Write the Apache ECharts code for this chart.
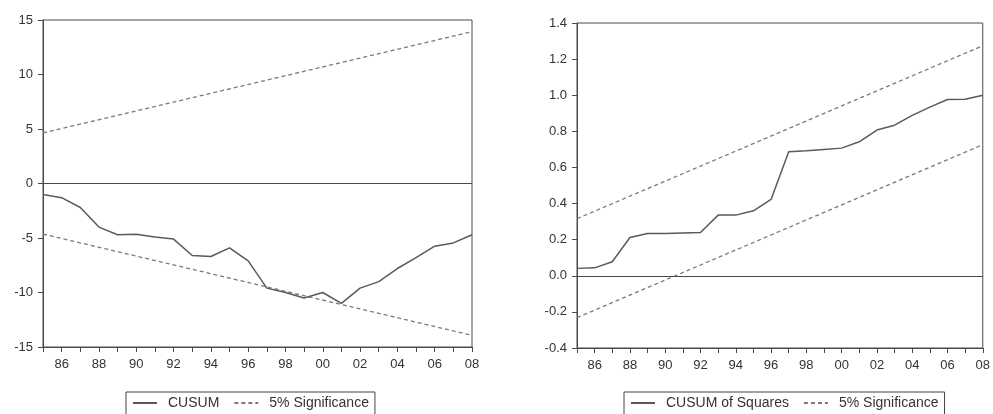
<!DOCTYPE html>
<html>
<head>
<meta charset="utf-8">
<script src="https://cdn.jsdelivr.net/npm/echarts@6/dist/echarts.min.js"></script>
<style>
  html, body { margin: 0; padding: 0; background: #fff; }
  #chart { width: 993px; height: 414px; }
</style>
</head>
<body>
<div id="chart"></div>
<script>
// Recursive residual stability tests, 1985-2008
const years = [1985, 1986, 1987, 1988, 1989, 1990, 1991, 1992, 1993, 1994, 1995, 1996,
               1997, 1998, 1999, 2000, 2001, 2002, 2003, 2004, 2005, 2006, 2007, 2008];

const cusum = [-1.0, -1.3, -2.2, -4.0, -4.7, -4.65, -4.9, -5.1, -6.6, -6.7, -5.9, -7.1,
               -9.6, -10.0, -10.5, -10.0, -11.0, -9.6, -9.0, -7.8, -6.8, -5.75, -5.45, -4.7];

const cusumSq = [0.041, 0.044, 0.078, 0.212, 0.234, 0.234, 0.237, 0.240, 0.336, 0.336, 0.360, 0.423,
                 0.687, 0.692, 0.700, 0.707, 0.742, 0.807, 0.834, 0.888, 0.934, 0.976, 0.978, 1.0];

// 5% significance bands are straight lines: values at the first and last year
const bandYears = [1985, 2008];
const cusumUpper = [4.64, 13.93];
const cusumLower = [-4.64, -13.93];
const sqUpper = [0.316, 1.274];
const sqLower = [-0.232, 0.726];

const pairs = (xs, ys) => xs.map((x, i) => [x, ys[i]]);

const FONT = 'Liberation Sans, Arial, sans-serif';
const AXIS_COLOR = '#4a4a4a';
const LINE_COLOR = '#5a5a5a';
const BAND_COLOR = '#7a7a7a';

function xAxisFor(gridIndex) {
  return {
    type: 'value', gridIndex, min: 1985, max: 2008, interval: 1,
    axisLine: { show: true, onZero: false, lineStyle: { color: AXIS_COLOR, width: 1 } },
    axisTick: { show: true, length: 5, lineStyle: { color: AXIS_COLOR } },
    splitLine: { show: false },
    axisLabel: {
      color: '#333', fontFamily: FONT, fontSize: 13, margin: 11,
      formatter: v => (v % 2 === 0 ? String(v % 100).padStart(2, '0') : '')
    }
  };
}

function yAxisFor(gridIndex, min, max, interval, digits) {
  return {
    type: 'value', gridIndex, min, max, interval,
    axisLine: { show: true, lineStyle: { color: AXIS_COLOR, width: 1 } },
    axisTick: { show: true, length: 5, lineStyle: { color: AXIS_COLOR } },
    splitLine: { show: false },
    axisLabel: {
      color: '#333', fontFamily: FONT, fontSize: 13, margin: 10,
      formatter: v => v.toFixed(digits)
    }
  };
}

function mainLine(name, idx, data) {
  return {
    type: 'line', name, xAxisIndex: idx, yAxisIndex: idx,
    data: pairs(years, data), symbol: 'none', silent: true,
    lineStyle: { color: LINE_COLOR, width: 1.5, type: 'solid' },
    itemStyle: { color: LINE_COLOR },
    markLine: {
      silent: true, symbol: 'none', label: { show: false },
      lineStyle: { color: AXIS_COLOR, width: 1, type: 'solid' },
      data: [{ yAxis: 0 }]
    },
    z: 3
  };
}

function bandLine(idx, data) {
  return {
    type: 'line', name: '5% Significance', xAxisIndex: idx, yAxisIndex: idx,
    data: pairs(bandYears, data), symbol: 'none', silent: true,
    lineStyle: { color: BAND_COLOR, width: 1.3, type: [4, 3] },
    itemStyle: { color: BAND_COLOR },
    z: 2
  };
}

function legendFor(left, names) {
  return {
    left, top: 392, orient: 'horizontal',
    data: names,
    borderColor: '#444', borderWidth: 1, borderRadius: 0,
    padding: [4, 6, 8, 6],
    itemWidth: 24, itemHeight: 12, itemGap: 14,
    selectedMode: false,
    // line-only keys: hide the point marker drawn in the middle
    itemStyle: { color: 'transparent', borderWidth: 0, opacity: 0 },
    textStyle: { color: '#333', fontFamily: FONT, fontSize: 14, padding: [0, 0, 0, 6] }
  };
}

const chart = echarts.init(document.getElementById('chart'), null, { renderer: 'canvas' });

chart.setOption({
  animation: false,
  backgroundColor: '#fff',
  grid: [
    { left: 43, right: 521, top: 20, bottom: 67, show: true, borderColor: AXIS_COLOR, borderWidth: 1 },
    { left: 577, right: 8, top: 23, bottom: 66, show: true, borderColor: AXIS_COLOR, borderWidth: 1 }
  ],
  xAxis: [xAxisFor(0), xAxisFor(1)],
  yAxis: [yAxisFor(0, -15, 15, 5, 0), yAxisFor(1, -0.4, 1.4, 0.2, 1)],
  legend: [
    legendFor(126, ['CUSUM', '5% Significance']),
    legendFor(624, ['CUSUM of Squares', '5% Significance'])
  ],
  series: [
    mainLine('CUSUM', 0, cusum),
    bandLine(0, cusumUpper),
    bandLine(0, cusumLower),
    mainLine('CUSUM of Squares', 1, cusumSq),
    bandLine(1, sqUpper),
    bandLine(1, sqLower)
  ]
});
</script>
</body>
</html>
